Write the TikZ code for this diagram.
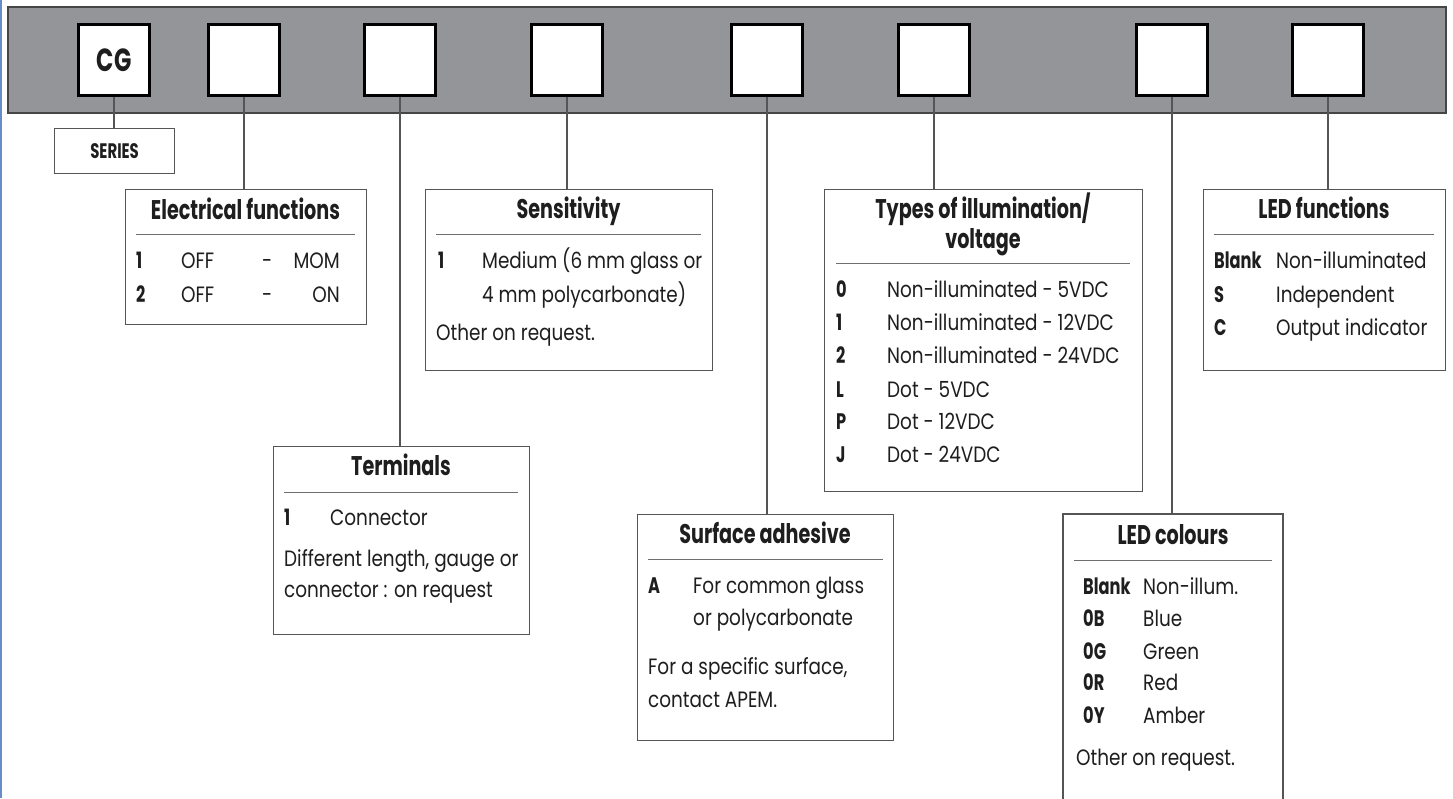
\documentclass[tikz,border=0pt]{standalone}
\usepackage{fontspec}
\setmainfont{Poppins}[FakeStretch=0.83]
\newfontfamily\hfont{Poppins}[FakeStretch=0.71]
\newfontfamily\kfont{Poppins}[FakeStretch=0.72]
\definecolor{bargray}{RGB}{147,149,152}
\definecolor{bardark}{RGB}{70,70,72}
\definecolor{boxgray}{RGB}{85,85,85}
\definecolor{rulegray}{RGB}{110,110,110}
\definecolor{txt}{RGB}{30,30,30}
\definecolor{edgeblue}{RGB}{105,140,200}
\begin{document}
\begin{tikzpicture}[x=1pt,y=-1pt,
  sq/.style={draw=black, line width=2.7pt, fill=white, minimum width=71pt, minimum height=71pt, inner sep=0pt, font=\hfont\bfseries\fontsize{32}{32}\selectfont, text=txt},
  ibox/.style={draw=boxgray, line width=1.2pt, fill=white, inner sep=0pt, anchor=north west},
  conn/.style={draw=boxgray, line width=1.1pt},
  rulel/.style={draw=rulegray, line width=1pt},
  htxt/.style={font=\hfont\bfseries\fontsize{27}{27}\selectfont, inner sep=0pt, anchor=base, text=txt},
  btxt/.style={font=\fontsize{22.2}{22.2}\selectfont, inner sep=0pt, anchor=base west, text=txt},
  ktxt/.style={font=\kfont\bfseries\fontsize{22.5}{22.5}\selectfont, inner sep=0pt, anchor=base west, text=txt},
]
\useasboundingbox (0,0) rectangle (1453,798);
\fill[white] (0,0) rectangle (1453,798);
\draw[edgeblue, line width=1.6pt] (0.8,0) -- (0.8,798);
% bar
\draw[fill=bargray, draw=bardark, line width=1.5pt] (8,7) rectangle (1446,113);
% squares
\node[sq] (s1) at (114,60) {CG};
\node[sq] (s2) at (244,60) {};
\node[sq] (s3) at (400,60) {};
\node[sq] (s4) at (567,60) {};
\node[sq] (s5) at (767,60) {};
\node[sq] (s6) at (934,60) {};
\node[sq] (s7) at (1172,60) {};
\node[sq] (s8) at (1328,60) {};
% SERIES
\node[ibox, minimum width=120pt, minimum height=45pt, font=\hfont\bfseries\fontsize{21}{21}\selectfont, text=txt] (series) at (54,128) {SERIES};
% info boxes
\node[ibox, minimum width=241pt, minimum height=135pt] (elec) at (125,189) {};
\node[ibox, minimum width=256pt, minimum height=188pt] (term) at (273,446) {};
\node[ibox, minimum width=287pt, minimum height=181pt] (sens) at (425,189) {};
\node[ibox, minimum width=256pt, minimum height=226pt] (surf) at (637,514) {};
\node[ibox, minimum width=318pt, minimum height=302pt] (types) at (824,189) {};
\node[ibox, minimum width=242pt, minimum height=181pt] (ledf) at (1203,189) {};
\coordinate (ledcTL) at (1063,514);
\coordinate (ledcTR) at (1283,514);
\coordinate (ledcBL) at (1063,800);
\coordinate (ledcBR) at (1283,800);
\fill[white] (ledcTL) rectangle (ledcBR);
\draw[boxgray, line width=1.2pt] (ledcBL) -- (ledcTL) -- (ledcTR) -- (ledcBR);
% connectors
\draw[conn] (s1.south) -- (s1.south |- series.north);
\draw[conn] (s2.south) -- (s2.south |- elec.north);
\draw[conn] (s3.south) -- (s3.south |- term.north);
\draw[conn] (s4.south) -- (s4.south |- sens.north);
\draw[conn] (s5.south) -- (s5.south |- surf.north);
\draw[conn] (s6.south) -- (s6.south |- types.north);
\draw[conn] (s7.south) -- (s7.south |- ledcTL);
\draw[conn] (s8.south) -- (s8.south |- ledf.north);
% Electrical functions
\node[htxt] (elecT) at (245.5,219) {Electrical functions};
\draw[rulel] (136,234) -- (355,234);
\node[ktxt] at (136,268) {1};
\node[btxt] at (181,268) {OFF};
\node[btxt] at (262,268) {-};
\node[btxt, anchor=base east] at (340,268) {MOM};
\node[ktxt] at (136,302) {2};
\node[btxt] at (181,302) {OFF};
\node[btxt] at (262,302) {-};
\node[btxt, anchor=base east] at (340,302) {ON};
% Terminals
\node[htxt] at (401,475) {Terminals};
\draw[rulel] (284,492) -- (518,492);
\node[ktxt] at (284,525) {1};
\node[btxt] at (330,525) {Connector};
\node[btxt] at (284,566) {Different length, gauge or};
\node[btxt] at (284,597) {connector : on request};
% Sensitivity
\node[htxt] at (568.5,218) {Sensitivity};
\draw[rulel] (436,234) -- (701,234);
\node[ktxt] at (438,268) {1};
\node[btxt] at (482,268) {Medium (6 mm glass or};
\node[btxt] at (482,302) {4 mm polycarbonate)};
\node[btxt] at (436,340) {Other on request.};
% Surface adhesive
\node[htxt] at (765,543) {Surface adhesive};
\draw[rulel] (648,559) -- (883,559);
\node[ktxt] at (648,593) {A};
\node[btxt] at (693,593) {For common glass};
\node[btxt] at (693,625) {or polycarbonate};
\node[btxt] at (648,674) {For a specific surface,};
\node[btxt] at (648,707) {contact APEM.};
% Types of illumination
\node[htxt] at (983,218) {Types of illumination/};
\node[htxt] at (983,248) {voltage};
\draw[rulel] (836,263) -- (1130,263);
\node[ktxt] at (836,297) {0};
\node[btxt] at (887,297) {Non-illuminated - 5VDC};
\node[ktxt] at (836,330) {1};
\node[btxt] at (887,330) {Non-illuminated - 12VDC};
\node[ktxt] at (836,363) {2};
\node[btxt] at (887,363) {Non-illuminated - 24VDC};
\node[ktxt] at (836,397) {L};
\node[btxt] at (887,397) {Dot - 5VDC};
\node[ktxt] at (836,429) {P};
\node[btxt] at (887,429) {Dot - 12VDC};
\node[ktxt] at (836,462) {J};
\node[btxt] at (887,462) {Dot - 24VDC};
% LED functions
\node[htxt] at (1324,218) {LED functions};
\draw[rulel] (1214,234) -- (1434,234);
\node[ktxt] at (1214,268) {Blank};
\node[btxt] at (1276,268) {Non-illuminated};
\node[ktxt] at (1214,302) {S};
\node[btxt] at (1276,302) {Independent};
\node[ktxt] at (1214,335) {C};
\node[btxt] at (1276,335) {Output indicator};
% LED colours
\node[htxt] at (1173,544) {LED colours};
\draw[rulel] (1074,560) -- (1272,560);
\node[ktxt] at (1083,594) {Blank};
\node[btxt] at (1143,594) {Non-illum.};
\node[ktxt] at (1083,626) {0B};
\node[btxt] at (1143,626) {Blue};
\node[ktxt] at (1083,659) {0G};
\node[btxt] at (1143,659) {Green};
\node[ktxt] at (1083,690) {0R};
\node[btxt] at (1143,690) {Red};
\node[ktxt] at (1083,723) {0Y};
\node[btxt] at (1143,723) {Amber};
\node[btxt] at (1076,765) {Other on request.};
\end{tikzpicture}
\end{document}
